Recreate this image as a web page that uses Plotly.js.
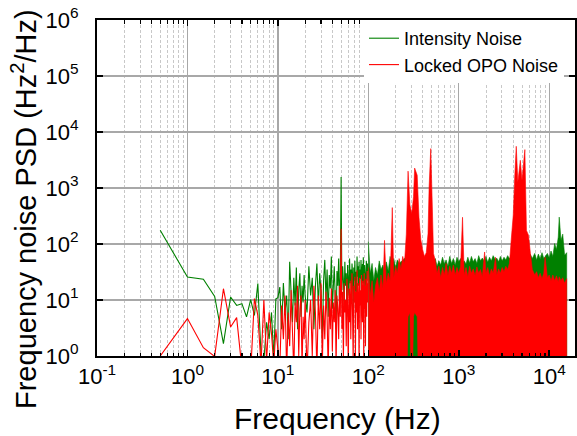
<!DOCTYPE html>
<html>
<head>
<meta charset="utf-8">
<script src="https://cdn.plot.ly/plotly-3.0.1.min.js"></script>
<style>html,body{margin:0;padding:0;background:#fff;}#chart{width:577px;height:436px;}</style>
</head>
<body>
<div id="chart"></div>
<script>
// ---- Data ----
// Low-frequency region, individual bins (Hz)
var fLow = [0.5,1,1.5,2,2.5,3,3.5,4,4.5,5,5.5,6,6.5,7,7.5,8,8.5,9,9.5,10,
  10.5,11,11.5,12,12.5,13,13.5,14,14.5,15,15.5,16,16.5,17,17.5,18,18.5,19,19.5,20,
  21,22,23,24,25,26,27,28,29,30,31,32,33,34,35,36,37,38,39,40,41,42,43,44,45,46,47,48,49,50,
  51,52,53,54,55,56,57,58,59,60,61,62,63,64,65,66,67,68,69,70,71,72,73,74,75,76,77,78,79,80,
  81,82,83,84,85,86,87,88,89,90,91,92,93,94,95,96,97,98,99];
var intensityLow = [176,25.7,23.4,11.6,1.66,11.3,8.0,8.6,5.0,10.2,5.3,19.6,1.1,0.8,4.0,2.0,6.0,0.9,10.5,11,
  17,3,20,6,12,2,48,10,4,25,8,38,3,15,30,5,18,9,28,12,
  6,40,12,25,3,18,45,8,30,14,2,22,52,10,35,5,28,16,60,7,24,40,12,3,33,18,55,9,26,1570,
  15,40,22,8,48,18,30,5,42,25,12,55,20,35,10,45,28,6,38,22,50,14,32,9,60,26,40,18,48,12,
  35,24,52,16,30,44,20,58,28,10,42,25,36,15,50,30,22,45,33];
var opoLow = [1.0,4.66,1.41,0.98,15.9,3.3,4.85,0.6,0.5,0.5,10.6,5.3,0.7,10,0.8,6,2.5,0.7,3,1.5,
  0.6,8,2,12,0.5,6,1.5,15,3,0.5,9,4,18,1,7,12,0.6,5,2,10,
  0.5,4,10,1,18,6,0.5,12,3,20,0.7,8,2,14,5,0.5,11,3,16,1.2,9,4,15,0.6,12,7,2,18,5,188,
  3,14,0.8,20,6,10,1.5,24,8,0.5,16,4,22,2,12,30,5,0.7,18,9,26,1,14,6,34,3,20,11,0.6,25,
  8,15,2,28,10,4,22,13,0.8,30,7,18,1.5,24,12,5,33,9,20];

// High-frequency region: dense spectrum read as upper / lower envelopes
var fBand = [100,105,110,115,120,126,132,138,145,151,158,166,174,184,191,200,209,219,229,240,
  251,263,275,288,302,316,325,347,363,380,398,417,437,457,470,490,510,525,550,575,
  603,631,661,692,724,759,794,832,871,912,955,1000,1047,1100,1148,1202,1259,1318,1380,1445,
  1514,1585,1660,1738,1820,1930,1995,2089,2188,2291,2399,2550,2630,2754,2884,3020,3162,3311,3467,3631,
  3802,3900,4000,4150,4320,4500,4790,5000,5380,5600,5900,6200,6500,6918,7244,7586,7943,8318,8710,9000,
  9550,10000,10471,10965,11482,12023,12589,12900,13500,14100,14800,15600];
var intensityUpper = [110,30,45,22,38,28,50,35,42,30,48,33,60,40,55,38,52,45,48,50,
  55,60,70,60,55,60,60,50,45,50,45,50,48,40,45,50,40,45,55,40,
  50,42,58,44,52,40,60,45,55,42,58,48,55,45,50,44,58,46,60,48,
  55,45,62,50,56,48,60,47,58,50,62,52,56,48,60,50,58,52,62,55,
  60,60,62,60,60,60,60,60,60,60,62,65,55,68,52,66,54,70,55,60,
  68,56,75,60,102,80,133,302,116,150,63,70];
var opoUpper = [38,12,22,9,18,25,14,28,16,116,20,30,22,447,25,40,30,55,35,60,
  45,150,2000,500,350,700,2270,1690,300,120,80,60,70,153,1040,5050,458,68,51,30,
  40,25,38,28,45,27,40,30,42,28,38,30,40,300,28,38,26,40,30,36,
  27,39,30,35,26,72,30,38,27,36,30,58,28,36,30,38,32,40,35,45,
  120,230,325,1500,5560,1280,3125,1370,4850,175,143,67,35,28,32,25,30,24,30,58,
  25,28,22,28,22,27,21,26,22,25,20,24];
var opoLower = [0.1,0.1,0.1,0.1,0.1,0.1,0.1,0.1,0.1,0.1,0.1,0.1,0.1,0.1,0.1,0.1,0.1,0.1,0.1,0.1,
  0.1,0.1,5,6,0.1,5,6,5,0.1,0.1,0.1,0.1,0.1,0.1,0.1,0.1,0.1,0.1,0.1,0.1,
  0.1,0.1,0.1,0.1,0.1,0.1,0.1,0.1,0.1,0.1,0.1,0.1,0.1,0.1,0.1,0.1,0.1,0.1,0.1,0.1,
  0.1,0.1,0.1,0.1,0.1,0.1,0.1,0.1,0.1,0.1,0.1,0.1,0.1,0.1,0.1,0.1,0.1,0.1,0.1,0.1,
  0.1,0.1,0.1,0.1,0.1,0.1,0.1,0.1,0.1,0.1,0.1,0.1,0.1,0.1,0.1,0.1,0.1,0.1,0.1,0.1,
  0.1,0.1,0.1,0.1,0.1,0.1,0.1,0.1,0.1,0.1,0.1,0.1];
var intensityFloor = 0.1;

var seriesNames = ['Intensity Noise', 'Locked OPO Noise'];
var xTitle = 'Frequency (Hz)';
var yTitle = 'Frequency noise PSD (Hz<sup>2</sup>/Hz)';
var xTickVals = [0.1,1,10,100,1000,10000];
var xTickText = ['10<sup>-1</sup>','10<sup>0</sup>','10<sup>1</sup>','10<sup>2</sup>','10<sup>3</sup>','10<sup>4</sup>'];
var yTickVals = [1,10,100,1000,10000,100000,1000000];
var yTickText = ['10<sup>0</sup>','10<sup>1</sup>','10<sup>2</sup>','10<sup>3</sup>','10<sup>4</sup>','10<sup>5</sup>','10<sup>6</sup>'];

// ---- Build traces ----
var GREEN = '#008000', RED = '#ff0000';
function rev(a){ return a.slice().reverse(); }
var floorArr = fBand.map(function(){ return intensityFloor; });

var traces = [
  {x: fLow, y: intensityLow, mode: 'lines', name: seriesNames[0], legendgroup: 'g',
   line: {color: GREEN, width: 1.1}},
  {x: fBand.concat(rev(fBand)), y: intensityUpper.concat(rev(floorArr)), mode: 'lines',
   fill: 'toself', fillcolor: GREEN, line: {color: GREEN, width: 0.6}, showlegend: false, legendgroup: 'g'},
  {x: fLow, y: opoLow, mode: 'lines', name: seriesNames[1], legendgroup: 'r',
   line: {color: RED, width: 1.1}},
  {x: fBand.concat(rev(fBand)), y: opoUpper.concat(rev(opoLower)), mode: 'lines',
   fill: 'toself', fillcolor: RED, line: {color: RED, width: 0.6}, showlegend: false, legendgroup: 'r'}
];

var FONT = 'Arial, "Liberation Sans", Helvetica, sans-serif';
// plot area in pixels: x 97..575, y 20..356
var PL = 97, PW = 478, PT = 20, PH = 336;
function px2paperX(p){ return (p - PL) / PW; }
function px2paperY(p){ return (PT + PH - p) / PH; }

var layout = {
  width: 577, height: 436,
  margin: {l: PL, r: 577 - PL - PW, t: PT, b: 436 - PT - PH},
  paper_bgcolor: '#fff', plot_bgcolor: '#fff',
  font: {family: FONT, color: '#000'},
  showlegend: true,
  legend: {x: px2paperX(364), xanchor: 'left', y: 1, yanchor: 'top', bgcolor: '#fff', borderwidth: 0,
    font: {family: FONT, size: 18, color: '#000'}, tracegroupgap: 0},
  xaxis: {
    type: 'log', range: [-1, 4.285], autorange: false,
    tickmode: 'array', tickvals: xTickVals, ticktext: xTickText,
    ticks: 'inside', ticklen: 6, tickwidth: 1.5, tickcolor: '#000',
    showline: true, linecolor: '#000', linewidth: 2, mirror: 'ticks',
    showgrid: true, gridcolor: '#a8a8a8', gridwidth: 1.3,
    zeroline: false,
    tickfont: {family: FONT, size: 22, color: '#000'}, ticklabelstandoff: 0,
    minor: {dtick: 'D1', ticks: 'inside', ticklen: 3.5, tickwidth: 1.2, tickcolor: '#000',
      showgrid: true, gridcolor: '#c8c8c8', griddash: '3px,2px', gridwidth: 1}
  },
  yaxis: {
    type: 'log', range: [0, 6], autorange: false,
    tickmode: 'array', tickvals: yTickVals, ticktext: yTickText,
    ticks: 'inside', ticklen: 6, tickwidth: 1.5, tickcolor: '#000',
    showline: true, linecolor: '#000', linewidth: 2, mirror: 'ticks',
    showgrid: true, gridcolor: '#a8a8a8', gridwidth: 1.3,
    zeroline: false,
    tickfont: {family: FONT, size: 22, color: '#000'}, ticklabelstandoff: 12
  },
  annotations: [
    {text: xTitle, xref: 'paper', yref: 'paper', x: px2paperX(337.5), y: px2paperY(418),
     xanchor: 'center', yanchor: 'middle', showarrow: false,
     font: {family: FONT, size: 30, color: '#000'}},
    {text: yTitle, xref: 'paper', yref: 'paper', x: px2paperX(24), y: px2paperY(209),
     xanchor: 'center', yanchor: 'middle', showarrow: false, textangle: -90,
     font: {family: FONT, size: 29, color: '#000'}}
  ],
  hovermode: false
};

Plotly.newPlot('chart', traces, layout, {displayModeBar: false, staticPlot: true});
</script>
</body>
</html>
